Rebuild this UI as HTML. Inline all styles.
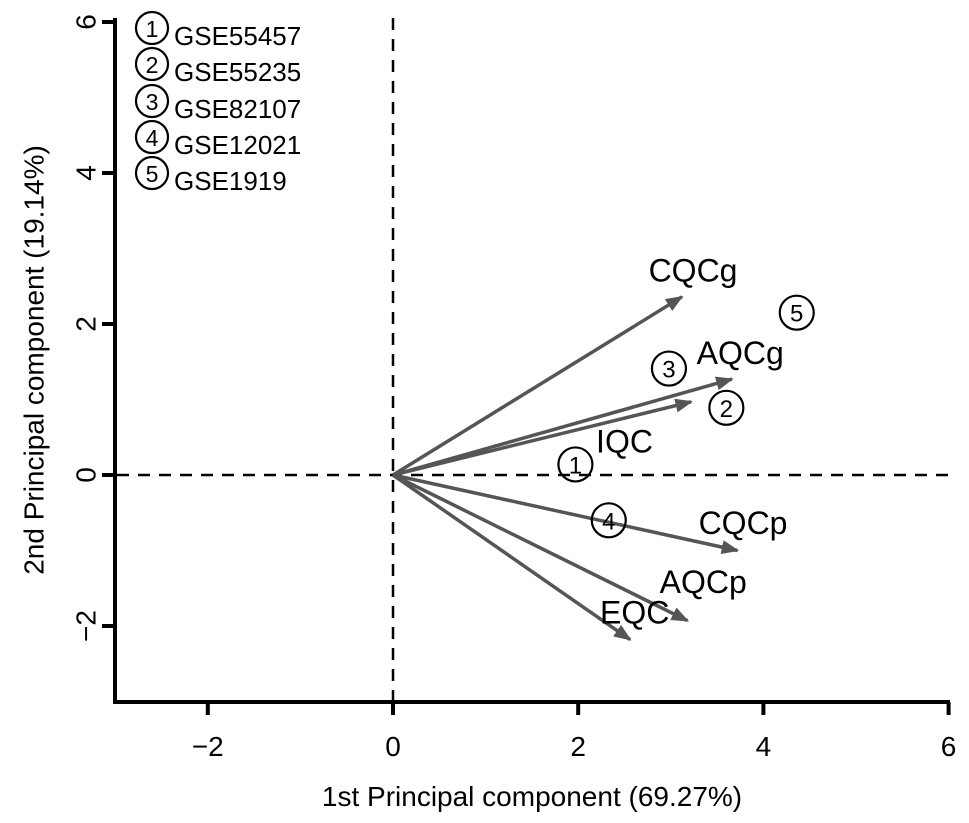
<!DOCTYPE html>
<html><head><meta charset="utf-8"><style>
html,body{margin:0;padding:0;background:#fff;}
svg{display:block;font-family:"Liberation Sans",Arial,sans-serif;}
</style></head><body>
<svg id="chart" width="969" height="823" viewBox="0 0 969 823">
<defs><marker id="ah" viewBox="0 0 10 10" refX="9" refY="5" markerWidth="5" markerHeight="5" orient="auto"><path d="M0,1 L10,5 L0,9 z" fill="#555"/></marker></defs>
<g id="axes"></g><g id="marks"></g><g id="legend"></g>
</svg>
<script>
const xTicks=[-2,0,2,4,6];
const yTicks=[-2,0,2,4,6];
const varNames=["CQCg","AQCg","IQC","CQCp","AQCp","EQC"];
const varX=[3.12,3.66,3.22,3.72,3.18,2.56];
const varY=[2.36,1.27,0.97,-1.0,-1.93,-2.18];
const labelX=[3.24,3.75,2.5,3.78,3.35,2.61];
const labelY=[2.56,1.47,0.30,-0.78,-1.56,-1.97];
const ptNames=["1","2","3","4","5"];
const ptX=[1.97,3.6,2.98,2.33,4.36];
const ptY=[0.14,0.89,1.41,-0.6,2.15];
const legendLabels=["GSE55457","GSE55235","GSE82107","GSE12021","GSE1919"];
const sx=v=>393+v*92.6, sy=v=>475-v*75.5;
const NS="http://www.w3.org/2000/svg";
function mk(p,t,a){const e=document.createElementNS(NS,t);for(const k in a)e.setAttribute(k,a[k]);p.appendChild(e);return e;}
const ax=document.getElementById('axes'),mg=document.getElementById('marks'),lg=document.getElementById('legend');
let e;
e=mk(ax,'line',{x1:115,y1:18,x2:115,y2:703,stroke:'#000','stroke-width':4});

e=mk(ax,'line',{x1:113,y1:702,x2:950,y2:702,stroke:'#000','stroke-width':4});

xTicks.forEach(t=>{const x=sx(t);
e=mk(ax,'line',{x1:x,y1:702,x2:x,y2:715,stroke:'#000','stroke-width':4});

e=mk(ax,'text',{x:x,y:756,'font-size':28,'text-anchor':'middle'});e.textContent=t<0?'\u2212'+(-t):t;
});
yTicks.forEach(t=>{const y=sy(t);
e=mk(ax,'line',{x1:102,y1:y,x2:115,y2:y,stroke:'#000','stroke-width':4});

e=mk(ax,'text',{x:86,y:y,'font-size':28,'text-anchor':'middle',transform:`rotate(-90 86 ${y})`,'dominant-baseline':'central'});e.textContent=t<0?'\u2212'+(-t):t;
});
e=mk(ax,'text',{x:532,y:806,'font-size':28,'text-anchor':'middle'});e.textContent='1st Principal component (69.27%)';

e=mk(ax,'text',{x:34,y:360,'font-size':28,'text-anchor':'middle',transform:'rotate(-90 34 360)','dominant-baseline':'central'});e.textContent='2nd Principal component (19.14%)';

e=mk(ax,'line',{x1:sx(0),y1:18,x2:sx(0),y2:702,stroke:'#000','stroke-width':2.5,'stroke-dasharray':'12 9'});

e=mk(ax,'line',{x1:117,y1:sy(0),x2:950,y2:sy(0),stroke:'#000','stroke-width':2.5,'stroke-dasharray':'12 9'});

varNames.forEach((n,i)=>{
e=mk(mg,'line',{x1:sx(0),y1:sy(0),x2:sx(varX[i]),y2:sy(varY[i]),stroke:'#555','stroke-width':3.5,'marker-end':'url(#ah)'});

e=mk(mg,'text',{x:sx(labelX[i]),y:sy(labelY[i]),'font-size':32,'text-anchor':'middle'});e.textContent=n;
});
ptNames.forEach((n,i)=>{const g=mk(mg,'g',{});

mk(g,'circle',{cx:sx(ptX[i]),cy:sy(ptY[i]),r:17,fill:'none',stroke:'#000','stroke-width':2.2});
const t=mk(g,'text',{x:sx(ptX[i]),y:sy(ptY[i])+9,'font-size':24,'text-anchor':'middle'});t.textContent=n;});
const ly=[28,64,101,137,173];
legendLabels.forEach((n,i)=>{const g=mk(lg,'g',{});

mk(g,'circle',{cx:152,cy:ly[i],r:16,fill:'none',stroke:'#000','stroke-width':2.2});
let t=mk(g,'text',{x:152,y:ly[i]+9,'font-size':23,'text-anchor':'middle'});t.textContent=ptNames[i];
t=mk(g,'text',{x:174,y:ly[i]+17,'font-size':26});t.textContent=n;});
</script>
</body></html>
